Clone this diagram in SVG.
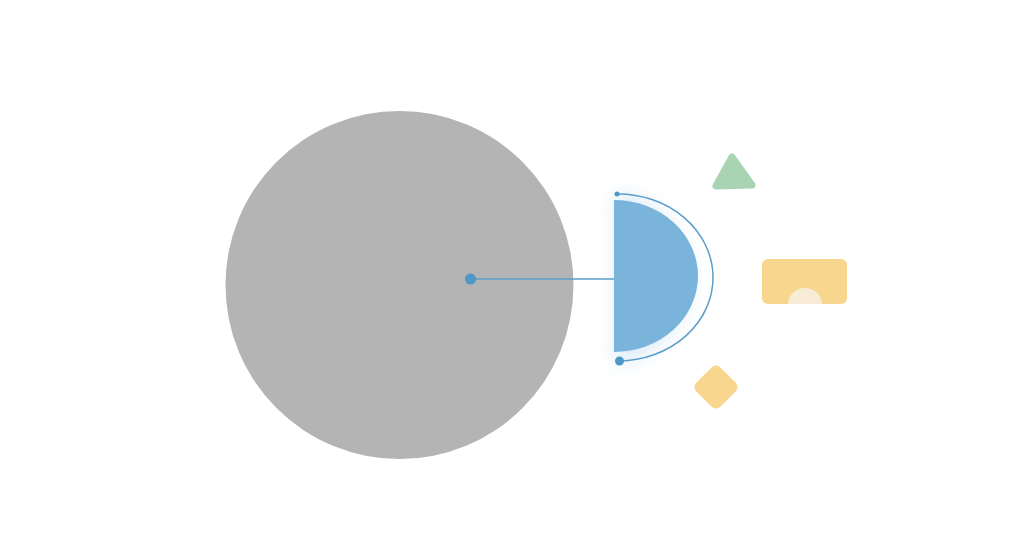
<svg xmlns="http://www.w3.org/2000/svg" width="1024" height="559" viewBox="0 0 1024 559">
<defs>
<style>
.conn{fill:none;stroke:#5b9dcb;stroke-width:1.5}
.dot{fill:#4f97c8}
</style>
<filter id="glow" x="-50%" y="-50%" width="200%" height="200%">
<feGaussianBlur stdDeviation="10"/>
</filter>
</defs>
<rect width="1024" height="559" fill="#ffffff"/>
<g id="big-circle">
<circle cx="399.5" cy="285" r="174" fill="#b4b4b4"/>
</g>
<g id="half-circle">
<path d="M616 192 A104 90 0 0 1 616 364 Z" fill="#cfe5f5" filter="url(#glow)" opacity="0.85"/>
<path d="M614 200 A84 76 0 0 1 614 352 Z" fill="#7bb4da"/>
</g>
<g id="triangle">
<polygon points="732,157 716,186 752,185" fill="#a8d4b4" stroke="#a8d4b4" stroke-width="7" stroke-linejoin="round"/>
</g>
<g id="rectangle">
<rect x="762" y="259" width="85" height="45" rx="6" fill="#f8d68d"/>
<path d="M788 304 A17 16 0 0 1 822 304 Z" fill="#f8ecd6"/>
</g>
<g id="diamond">
<rect x="699" y="370" width="34" height="34" rx="6" transform="rotate(45 716 387)" fill="#f8d68d"/>
</g>
<g id="connectors">
<line class="conn" x1="471" y1="279" x2="614" y2="279"/>
<path class="conn" d="M617 194 A95 83.5 0 0 1 619 361"/>
<circle class="dot" cx="470.5" cy="279" r="5.5"/>
<circle class="dot" cx="617" cy="194" r="2.5"/>
<circle class="dot" cx="619.5" cy="361" r="4.5"/>
</g>
</svg>
